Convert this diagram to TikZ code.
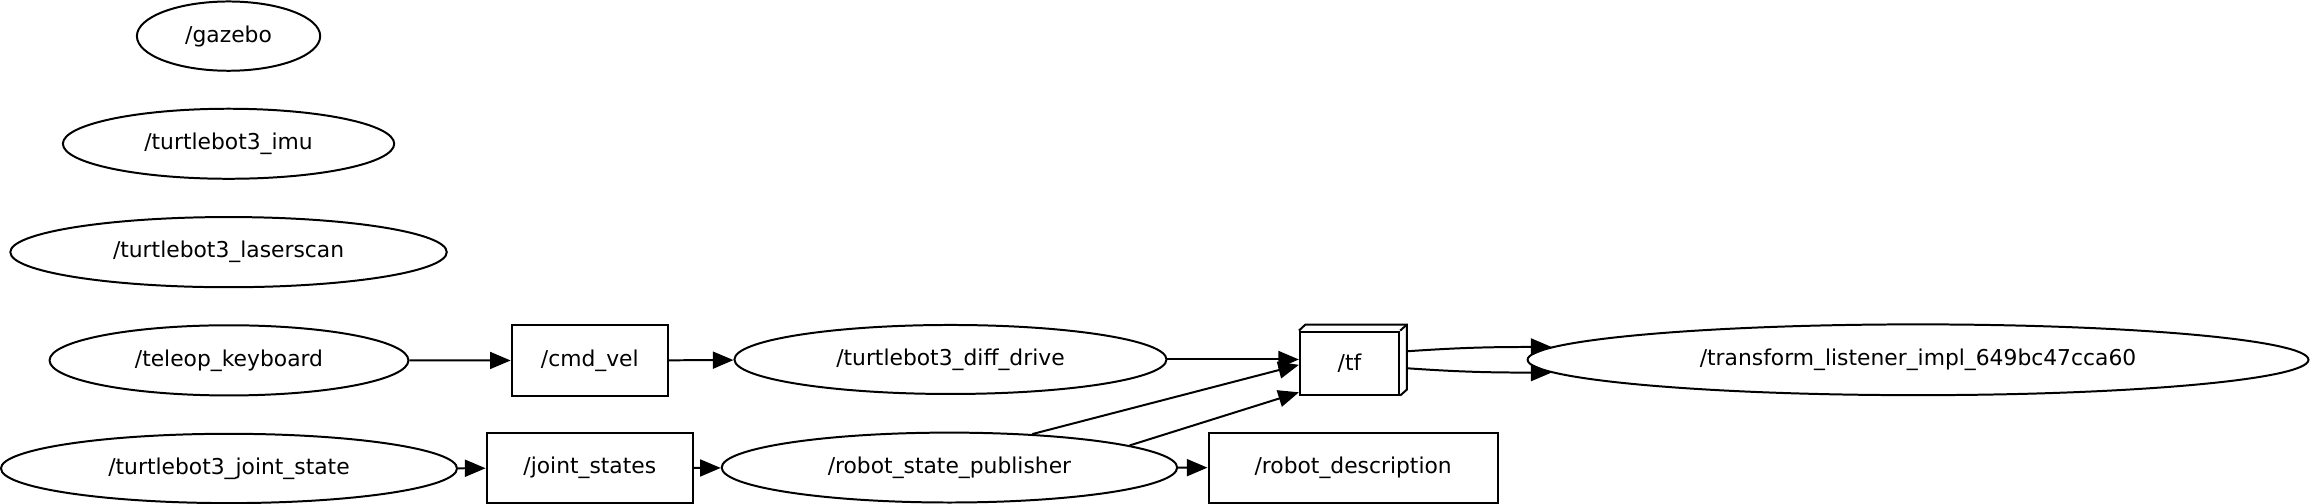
\documentclass[tikz,border=0pt]{standalone}
\usepackage{fontspec}
\setmainfont{DejaVu Sans}
\usetikzlibrary{shapes.geometric,arrows.meta,calc}
\begin{document}
\begin{tikzpicture}[x=1pt,y=-1pt, line width=1.35pt,
  font=\fontsize{14.8}{17}\selectfont,
  ell/.style={draw, ellipse, inner sep=0pt},
  topic/.style={draw, rectangle, inner sep=0pt},
  edge/.style={-{Triangle[length=14pt,width=11.5pt]}}]
\useasboundingbox (0,0) rectangle (1568,341.8);
% left column
\node[ell, minimum width=124.3pt, minimum height=47pt] (gazebo) at (155,24.5) {/gazebo};
\node[ell, minimum width=224.7pt, minimum height=47.5pt] (imu) at (155,97.5) {/turtlebot3\_imu};
\node[ell, minimum width=296pt, minimum height=47.6pt] (laser) at (155,171) {/turtlebot3\_laserscan};
\node[ell, minimum width=243.4pt, minimum height=47.6pt] (teleop) at (155.3,244.4) {/teleop\_keyboard};
\node[ell, minimum width=309.3pt, minimum height=47pt] (jstate) at (155.3,317.7) {/turtlebot3\_joint\_state};
% topics
\node[topic, minimum width=106pt, minimum height=47.8pt] (cmdvel) at (400,244.5) {/cmd\_vel};
\node[topic, minimum width=140pt, minimum height=47.6pt] (jstates) at (400,317.5) {/joint\_states};
% middle
\node[ell, minimum width=293pt, minimum height=46.8pt] (dd) at (644.6,243.8) {/turtlebot3\_diff\_drive};
\node[ell, minimum width=308.9pt, minimum height=47.4pt] (rsp) at (643.9,317.1) {/robot\_state\_publisher};
% tf (box3d)
\node[topic, minimum width=67.3pt, minimum height=42.7pt] (tf) at (915.25,246.25) {/tf};
\draw[line join=miter] (tf.north west) -- ++(4.4,-4.1) -| ($(tf.south east)+(4.6,-4.1)$) -- (tf.south east);
\draw (tf.north east) -- ++(4.6,-4.1);
\node[topic, minimum width=196.2pt, minimum height=47.6pt] (rdesc) at (917.7,317.2) {/robot\_description};
\node[ell, minimum width=529.6pt, minimum height=48pt] (tl) at (1300.8,244) {/transform\_listener\_impl\_649bc47cca60};
% edges
\draw[edge] (teleop) -- (cmdvel);
\draw[edge] (cmdvel) -- (dd);
\draw[edge] (dd.east) -- (dd.east -| tf.west);
\draw[edge] (jstate) -- (jstates);
\draw[edge] (jstates) -- (rsp);
\draw[edge] (rsp) -- (rdesc);
\draw[edge] (rsp.22) -- (tf.182);
\draw[edge] (rsp.7) -- (tf.210);
\draw[edge] ($(tf.east)+(4.6,-8)$) to[out=4,in=180] (tl.178);
\draw[edge] ($(tf.east)+(4.6,3.5)$) to[out=-4,in=180] (tl.182);
\end{tikzpicture}
\end{document}
